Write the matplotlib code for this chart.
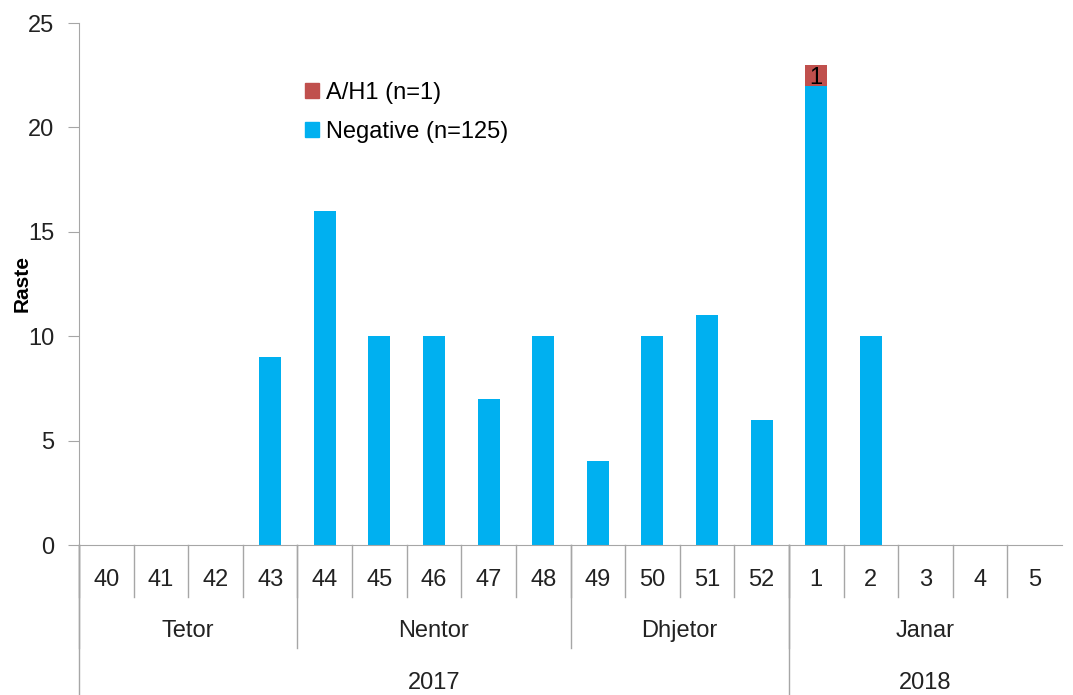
import numpy as np
import matplotlib.pyplot as plt
from matplotlib.patches import Patch
from matplotlib.transforms import blended_transform_factory

plt.rcParams['font.family'] = 'Liberation Sans'
plt.rcParams['font.size'] = 17

weeks = ['40', '41', '42', '43', '44', '45', '46', '47', '48',
         '49', '50', '51', '52', '1', '2', '3', '4', '5']
negative = [0, 0, 0, 9, 16, 10, 10, 7, 10, 4, 10, 11, 6, 22, 10, 0, 0, 0]
ah1 = [0, 0, 0, 0, 0, 0, 0, 0, 0, 0, 0, 0, 0, 1, 0, 0, 0, 0]
months = ['Tetor', 'Nentor', 'Dhjetor', 'Janar']
month_len = [4, 5, 4, 5]
years = ['2017', '2018']
year_len = [13, 5]

blue = '#00B0F0'
red = '#C0504D'
gray = '#A6A6A6'

fig = plt.figure(figsize=(10.73, 6.95), dpi=100)
ax = fig.add_axes([79 / 1073, 150 / 695, 983 / 1073, 522 / 695])

x = np.arange(len(weeks))
ax.bar(x, negative, width=0.4, color=blue)
ax.bar(x, ah1, width=0.4, bottom=negative, color=red)
for i, v in enumerate(ah1):
    if v > 0:
        ax.text(x[i], negative[i] + v / 2, str(v), ha='center', va='center_baseline',
                fontsize=17, color='black')

ax.set_xlim(-0.5, len(weeks) - 0.5)
ax.set_ylim(0, 25)
ax.set_yticks(range(0, 26, 5))
ax.tick_params(axis='y', direction='out', length=8, color=gray, pad=10,
               labelcolor='#222222')
ax.set_xticks([])
for s in ['top', 'right']:
    ax.spines[s].set_visible(False)
ax.spines['left'].set_color(gray)
ax.spines['bottom'].set_color(gray)

ax.set_ylabel('Raste', fontweight='bold', fontsize=15)
ax.yaxis.set_label_coords(-0.048, 0.5)

# multi level category axis
tr = blended_transform_factory(ax.transData, ax.transAxes)
y_week, y_month, y_year = -0.0996, -0.197, -0.287
for i, w in enumerate(weeks):
    ax.text(i, -0.067, w, transform=tr, ha='center', va='center', color='#222222')
for b in np.arange(-0.5, len(weeks) - 1, 1.0):
    ax.plot([b, b], [0, y_week], transform=tr, color=gray, lw=1, clip_on=False)

start = 0
for m, n in zip(months, month_len):
    ax.text(start + n / 2 - 0.5, -0.165, m, transform=tr, ha='center',
            va='center', color='#222222')
    ax.plot([start - 0.5] * 2, [0, y_month], transform=tr, color=gray, lw=1,
            clip_on=False)
    start += n

start = 0
for yr, n in zip(years, year_len):
    ax.text(start + n / 2 - 0.5, -0.264, yr, transform=tr, ha='center',
            va='center', color='#222222')
    ax.plot([start - 0.5] * 2, [0, y_year], transform=tr, color=gray, lw=1,
            clip_on=False)
    start += n

handles = [Patch(color=red, label='A/H1 (n=1)'),
           Patch(color=blue, label='Negative (n=125)')]
ax.legend(handles=handles, loc='upper left', bbox_to_anchor=(0.23, 0.887),
          frameon=False, handlelength=0.6, handleheight=0.6,
          handletextpad=0.3, labelspacing=0.7, borderpad=0, borderaxespad=0)

plt.savefig('out.png')
